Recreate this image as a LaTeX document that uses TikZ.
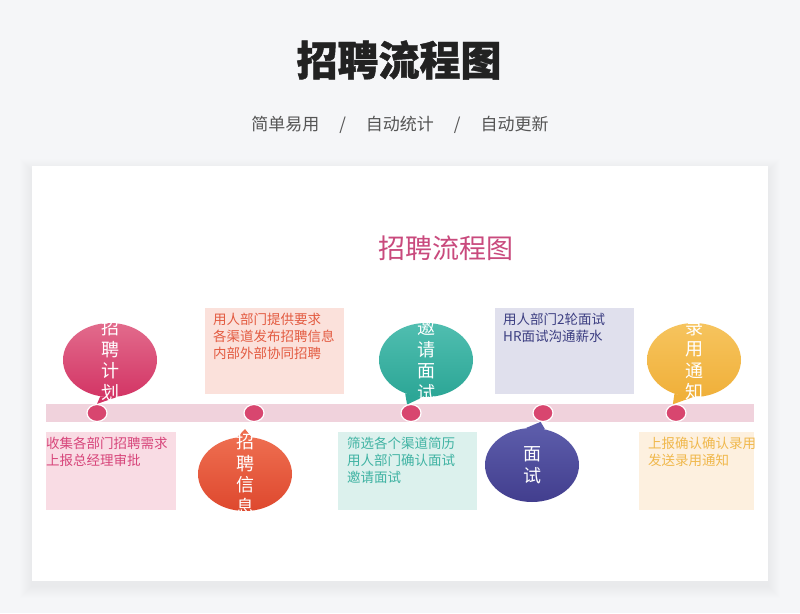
\documentclass[tikz,border=0pt]{standalone}
\usepackage{fontspec}
\setmainfont{Noto Sans CJK SC}
\usepackage{tikz}
\usetikzlibrary{positioning, shapes, backgrounds}
\definecolor{pagebg}{RGB}{245,246,248}
\definecolor{headgray}{RGB}{34,34,34}
\definecolor{taggray}{RGB}{85,85,85}
\definecolor{titlepink}{RGB}{201,74,125}
\definecolor{bandpink}{RGB}{240,210,220}
\definecolor{dotred}{RGB}{216,70,111}
\definecolor{pinktop}{RGB}{226,107,140}
\definecolor{pinkbot}{RGB}{211,53,101}
\definecolor{redtop}{RGB}{238,110,80}
\definecolor{redbot}{RGB}{222,72,46}
\definecolor{tealtop}{RGB}{80,190,176}
\definecolor{tealbot}{RGB}{44,166,150}
\definecolor{indtop}{RGB}{92,92,170}
\definecolor{indbot}{RGB}{66,62,142}
\definecolor{goldtop}{RGB}{246,196,94}
\definecolor{goldbot}{RGB}{240,176,58}
\definecolor{pinkbox}{RGB}{249,220,228}
\definecolor{redbox}{RGB}{251,225,219}
\definecolor{tealbox}{RGB}{220,241,237}
\definecolor{indbox}{RGB}{224,224,237}
\definecolor{goldbox}{RGB}{253,240,223}
\definecolor{pinktxt}{RGB}{215,69,122}
\definecolor{redtxt}{RGB}{227,91,65}
\definecolor{tealtxt}{RGB}{64,179,163}
\definecolor{indtxt}{RGB}{61,63,130}
\definecolor{goldtxt}{RGB}{240,184,76}
\tikzset{
  bubble/.style={ellipse, minimum width=94pt, minimum height=74pt, inner sep=0pt},
  bubbletxt/.style={text=white, align=center, inner sep=0pt, font=\fontsize{18}{21.5}\selectfont},
  dot/.style={ellipse, fill=dotred, draw=white, line width=1.2pt, minimum width=20pt, minimum height=17pt, inner sep=0pt},
  infobox/.style={rectangle, anchor=north west, minimum height=78pt, inner sep=0pt},
  infotxt/.style={anchor=north west, align=left, inner sep=0pt, font=\fontsize{13.5}{16.8}\selectfont},
}

\begin{document}
\begin{tikzpicture}[x=1pt, y=-1pt]
\useasboundingbox (0,0) rectangle (800,613);
\node[text=headgray, font=\fontsize{41}{48}\selectfont\bfseries\addfontfeatures{FakeBold=1}] (head) at (399,60) {招聘流程图};
\node[text=taggray, font=\fontsize{17}{20}\selectfont] (tag) at (400,125)
  {简单易用\hspace{20pt}/\hspace{20pt}自动统计\hspace{20pt}/\hspace{20pt}自动更新};
\node[text=titlepink, font=\fontsize{27}{31}\selectfont] (title) at (446,248) {招聘流程图};

\node[infobox, fill=pinkbox, minimum width=130pt] (i1) at (46,432) {};
\node[infobox, fill=redbox, minimum width=139pt, minimum height=86pt] (i2) at (205,308) {};
\node[infobox, fill=tealbox, minimum width=139pt] (i3) at (338,432) {};
\node[infobox, fill=indbox, minimum width=139pt, minimum height=86pt] (i4) at (495,308) {};
\node[infobox, fill=goldbox, minimum width=115pt] (i5) at (639,432) {};

\node[infotxt, text=pinktxt] (n1) at ([shift={(0pt,-5pt)}]i1.north west) {收集各部门招聘需求\\上报总经理审批};
\node[infotxt, text=redtxt] (n2) at ([shift={(8pt,-5pt)}]i2.north west) {用人部门提供要求\\各渠道发布招聘信息\\内部外部协同招聘};
\node[infotxt, text=tealtxt] (n3) at ([shift={(9pt,-5pt)}]i3.north west) {筛选各个渠道简历\\用人部门确认面试\\邀请面试};
\node[infotxt, text=indtxt] (n4) at ([shift={(8pt,-5pt)}]i4.north west) {用人部门2轮面试\\HR面试沟通薪水};
\node[infotxt, text=goldtxt] (n5) at ([shift={(9pt,-5pt)}]i5.north west) {上报确认确认录用\\发送录用通知};

\node[bubble, top color=pinktop, bottom color=pinkbot] (b1) at (110,360) {};
\node[bubble, top color=redtop, bottom color=redbot] (b2) at (245,474) {};
\node[bubble, top color=tealtop, bottom color=tealbot] (b3) at (426,360) {};
\node[bubble, top color=indtop, bottom color=indbot] (b4) at (532,465) {};
\node[bubble, top color=goldtop, bottom color=goldbot] (b5) at (694,360) {};

\node[bubbletxt] (t1) at (b1) {招\\聘\\计\\划};
\node[bubbletxt] (t2) at (b2) {招\\聘\\信\\息};
\node[bubbletxt] (t3) at (b3) {邀\\请\\面\\试};
\node[bubbletxt] (t4) at (b4) {面\\试};
\node[bubbletxt] (t5) at (b5) {录\\用\\通\\知};

\node[dot] (d1) at (97,413) {};
\node[dot] (d2) at (254,413) {};
\node[dot] (d3) at (411,413) {};
\node[dot] (d4) at (543,413) {};
\node[dot] (d5) at (676,413) {};
\coordinate (p2) at (245,429);

\begin{pgfonlayer}{background}
\fill[pagebg] (0,0) rectangle (800,613);
\foreach \s in {1,...,12}
  \fill[black, opacity=0.004] (32-\s,166-\s+5) rectangle (768+\s,581+\s+5);
\fill[white] (32,166) rectangle (768,581);
\fill[bandpink] (46,404) rectangle (754,422);
\fill[pinkbot] (b1.-105) -- (d1.north) -- (b1.-78) -- cycle;
\fill[redtop] (b2.102) -- (p2) -- (b2.80) -- cycle;
\fill[tealbot] (b3.-122) -- (d3.115) -- (b3.-95) -- cycle;
\fill[indtop] (b4.100) -- (d4.-105) -- (b4.70) -- cycle;
\fill[goldbot] (b5.-120) -- (d5.110) -- (b5.-92) -- cycle;
\end{pgfonlayer}
\end{tikzpicture}
\end{document}
